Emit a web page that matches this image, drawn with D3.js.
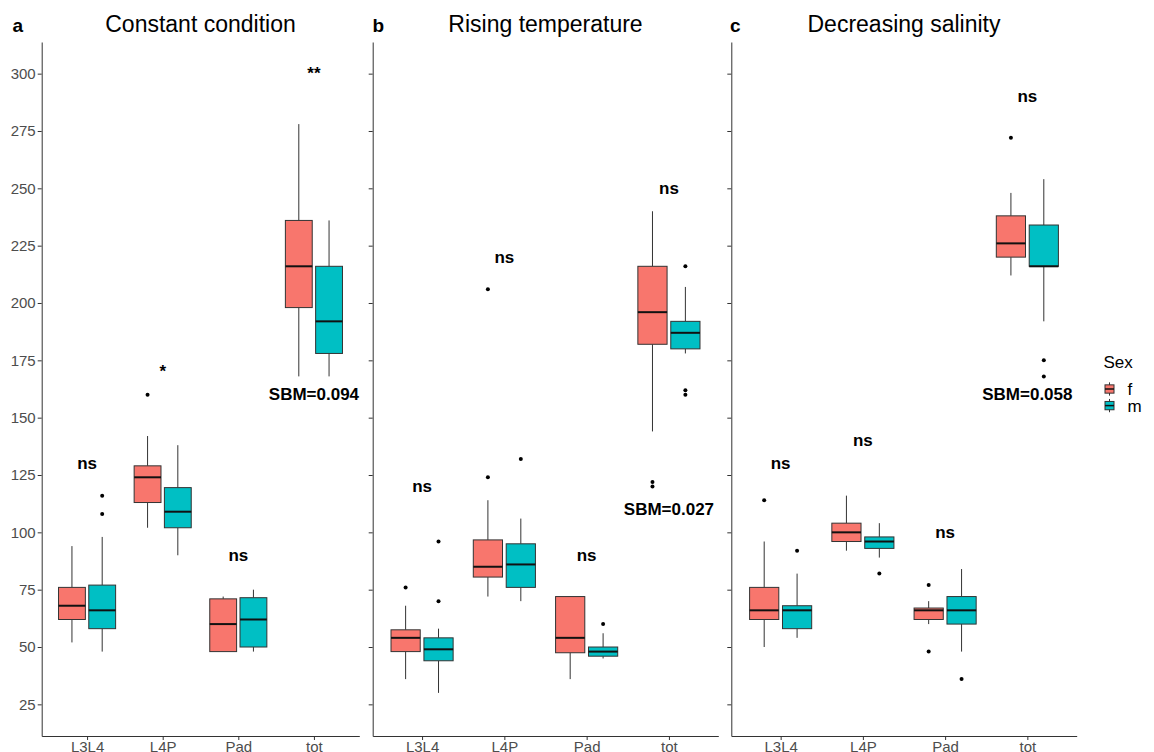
<!DOCTYPE html>
<html>
<head>
<meta charset="utf-8">
<script src="https://cdn.jsdelivr.net/npm/d3@7"></script>
<style>
  body { margin: 0; background: #fff; }
  svg { display: block; font-family: "Liberation Sans", Arial, sans-serif; }
  .axis path, .axis line { stroke: #333; stroke-width: 1; }
  .axis text { fill: #4d4d4d; font-size: 15px; font-family: "Liberation Sans", Arial, sans-serif; }
</style>
</head>
<body>
<script>
var width = 1154, height = 752;

// panel titles and tags
var panelTitles = ["Constant condition", "Rising temperature", "Decreasing salinity"];
var panelTags = ["a", "b", "c"];
var regions = ["L3L4", "L4P", "Pad", "tot"];
var sexes = ["f", "m"];
var yTicks = [25, 50, 75, 100, 125, 150, 175, 200, 225, 250, 275, 300];

// five-number summaries per region: [whisker low, q1, median, q3, whisker high]
var constF = [[52, 62, 68, 76, 94], [102, 113, 124, 129, 142], [48, 48, 60, 71, 72], [168, 198, 216, 236, 278]];
var constM = [[48, 58, 66, 77, 98], [90, 102, 109, 119.5, 138], [48, 50, 62, 71.5, 75], [168, 178, 192, 216, 236]];
var riseF = [[36, 48, 54, 57.5, 68], [72, 80.5, 85, 96.7, 114], [36, 47.5, 54, 72, 72], [144, 182, 196, 216, 240]];
var riseM = [[30, 44, 49, 54, 58], [70, 76, 86, 95, 106], [45, 46, 48, 50, 56], [178, 180, 187, 192, 207]];
var salF = [[50, 62, 66, 76, 96], [92, 96, 100, 104, 116], [60, 62, 66, 67, 70], [212, 220, 226, 238, 248]];
var salM = [[54, 58, 66, 68, 82], [89, 93, 96, 98, 104], [48, 60, 66, 72, 84], [192, 216, 216, 234, 254]];

// outliers per region
var constOutF = [[], [160], [], []];
var constOutM = [[116, 108], [], [], []];
var riseOutF = [[76], [206, 124], [], [122, 120]];
var riseOutM = [[96, 70], [132], [60], [216, 162, 160]];
var salOutF = [[114], [], [77, 48], [272]];
var salOutM = [[92], [82], [36], [175, 168]];

// significance labels and their y positions
var constSig = ["ns", "*", "ns", "**"];
var constSigY = [130, 170, 90, 300];
var riseSig = ["ns", "ns", "ns", "ns"];
var riseSigY = [120, 220, 90, 250];
var salSig = ["ns", "ns", "ns", "ns"];
var salSigY = [130, 140, 100, 290];
var sbmText = ["SBM=0.094", "SBM=0.027", "SBM=0.058"];
var sbmY = [160, 110, 160];

var colors = { f: "#F8766D", m: "#00BFC4" };

var stats = [[constF, constM], [riseF, riseM], [salF, salM]];
var outs = [[constOutF, constOutM], [riseOutF, riseOutM], [salOutF, salOutM]];
var sigs = [constSig, riseSig, salSig];
var sigYs = [constSigY, riseSigY, salSigY];

// panel placement (axis left, x axis right end, left of panel block)
var panelX = [[41.7, 359.3, 0], [372.7, 718.3, 360], [731.3, 1076.7, 717.5]];
var plotTop = 42, plotBottom = 736;

var svg = d3.select("body").append("svg")
    .attr("width", width)
    .attr("height", height);

var y = d3.scaleLinear().domain([11.2, 313.8]).range([plotBottom, plotTop]);

panelTitles.forEach(function(title, p) {
  var x0 = panelX[p][0], x1 = panelX[p][1];
  var x = d3.scalePoint().domain(regions).range([x0, x1]).padding(0.6);
  var step = x.step();
  var boxW = 0.355 * step;
  var off = 0.2 * step;

  var g = svg.append("g");

  // title and tag
  g.append("text")
    .attr("x", (x0 + x1) / 2).attr("y", 31.5)
    .attr("text-anchor", "middle")
    .style("font-size", "23px")
    .text(title);
  g.append("text")
    .attr("x", panelX[p][2] + 12.5).attr("y", 31.5)
    .style("font-size", "19px").style("font-weight", "bold")
    .text(panelTags[p]);

  // axes
  var yAxis = d3.axisLeft(y).tickValues(yTicks).tickSize(4).tickSizeOuter(0).tickPadding(2);
  if (p > 0) yAxis.tickFormat("");
  g.append("g").attr("class", "axis")
    .attr("transform", "translate(" + x0 + ",0)")
    .call(yAxis);

  g.append("g").attr("class", "axis")
    .attr("transform", "translate(0," + plotBottom + ")")
    .call(d3.axisBottom(x).tickSize(4).tickSizeOuter(0).tickPadding(1));

  // boxes
  sexes.forEach(function(s, si) {
    var dx = si === 0 ? -off : off;
    var data = stats[p][si].map(function(d, i) { return { region: regions[i], v: d, out: outs[p][si][i] }; });
    var bg = g.selectAll(".box-" + s).data(data).enter().append("g")
      .attr("class", "box-" + s);

    // whiskers
    bg.append("line")
      .attr("x1", function(d) { return x(d.region) + dx; })
      .attr("x2", function(d) { return x(d.region) + dx; })
      .attr("y1", function(d) { return y(d.v[3]); })
      .attr("y2", function(d) { return y(d.v[4]); })
      .attr("stroke", "#333").attr("stroke-width", 1);
    bg.append("line")
      .attr("x1", function(d) { return x(d.region) + dx; })
      .attr("x2", function(d) { return x(d.region) + dx; })
      .attr("y1", function(d) { return y(d.v[1]); })
      .attr("y2", function(d) { return y(d.v[0]); })
      .attr("stroke", "#333").attr("stroke-width", 1);

    bg.append("rect")
      .attr("x", function(d) { return x(d.region) + dx - boxW / 2; })
      .attr("width", boxW)
      .attr("y", function(d) { return y(d.v[3]); })
      .attr("height", function(d) { return y(d.v[1]) - y(d.v[3]); })
      .attr("fill", colors[s])
      .attr("stroke", "#333").attr("stroke-width", 1);

    bg.append("line")
      .attr("x1", function(d) { return x(d.region) + dx - boxW / 2; })
      .attr("x2", function(d) { return x(d.region) + dx + boxW / 2; })
      .attr("y1", function(d) { return y(d.v[2]); })
      .attr("y2", function(d) { return y(d.v[2]); })
      .attr("stroke", "#111").attr("stroke-width", 2);

    bg.selectAll(".outlier").data(function(d) { return d.out.map(function(o) { return { region: d.region, val: o }; }); })
      .enter().append("circle")
      .attr("class", "outlier")
      .attr("cx", function(d) { return x(d.region) + dx; })
      .attr("cy", function(d) { return y(d.val); })
      .attr("r", 2)
      .attr("fill", "#000");
  });

  // significance labels
  g.selectAll(".sig").data(sigs[p]).enter().append("text")
    .attr("class", "sig")
    .attr("x", function(d, i) { return x(regions[i]); })
    .attr("y", function(d, i) { return y(sigYs[p][i]); })
    .attr("text-anchor", "middle")
    .attr("dominant-baseline", "central")
    .style("font-size", "17px").style("font-weight", "bold")
    .text(function(d) { return d; });

  g.append("text")
    .attr("x", x("tot"))
    .attr("y", y(sbmY[p]))
    .attr("text-anchor", "middle")
    .attr("dominant-baseline", "central")
    .style("font-size", "17px").style("font-weight", "bold")
    .text(sbmText[p]);
});

// legend
var legend = svg.append("g").attr("transform", "translate(1103.5,0)");
legend.append("text")
  .attr("x", 0).attr("y", 368)
  .style("font-size", "17px")
  .text("Sex");

var keyW = 12, keyH = 16.6;
sexes.forEach(function(s, i) {
  var cy = 389 + i * keyH;
  var k = legend.append("g");
  k.append("line")
    .attr("x1", keyW / 2).attr("x2", keyW / 2)
    .attr("y1", cy - 0.4 * keyH).attr("y2", cy + 0.4 * keyH)
    .attr("stroke", "#333").attr("stroke-width", 1);
  k.append("rect")
    .attr("x", keyW * 0.125).attr("width", keyW * 0.75)
    .attr("y", cy - 0.25 * keyH).attr("height", 0.5 * keyH)
    .attr("fill", colors[s]).attr("stroke", "#333").attr("stroke-width", 1);
  k.append("line")
    .attr("x1", keyW * 0.125).attr("x2", keyW * 0.875)
    .attr("y1", cy).attr("y2", cy)
    .attr("stroke", "#111").attr("stroke-width", 1.5);
  legend.append("text")
    .attr("x", 24).attr("y", cy + 6)
    .style("font-size", "17px")
    .text(s);
});
</script>
</body>
</html>
